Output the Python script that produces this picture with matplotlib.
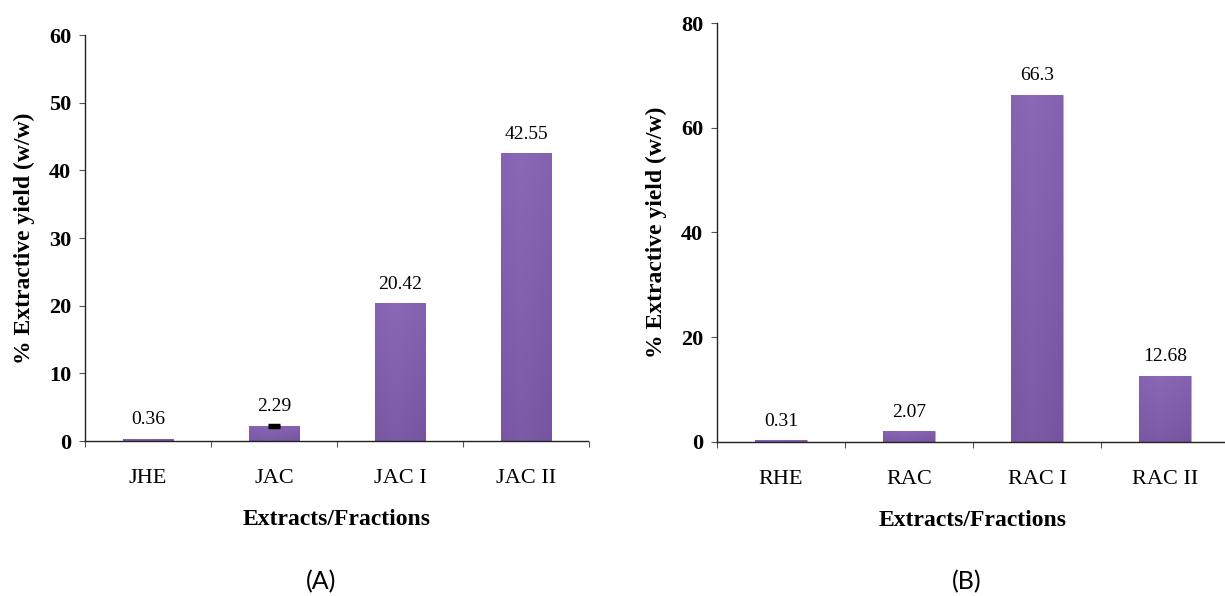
import numpy as np
import matplotlib
matplotlib.use('Agg')
import matplotlib.pyplot as plt
from matplotlib.colors import LinearSegmentedColormap

plt.rcParams['font.family'] = ['Liberation Serif', 'DejaVu Serif']

# panel A
cats_a = ['JHE', 'JAC', 'JAC I', 'JAC II']
vals_a = [0.36, 2.29, 20.42, 42.55]
labels_a = ['0.36', '2.29', '20.42', '42.55']
err_idx_a = 1        # only JAC shows an error cap
err_a = 0.15

# panel B
cats_b = ['RHE', 'RAC', 'RAC I', 'RAC II']
vals_b = [0.31, 2.07, 66.3, 12.68]
labels_b = ['0.31', '2.07', '66.3', '12.68']

purple = LinearSegmentedColormap.from_list('p', ['#684890', '#7b59a5', '#8a68b6'])


def shaded_bars(ax, vals, width=0.4):
    bars = ax.bar(range(len(vals)), vals, width=width, color='#7b59a5',
                  edgecolor='#b8a8cc', linewidth=0.8, linestyle=(0, (1.5, 1)), zorder=2)
    # fake the bevelled look with a gradient clipped to each bar
    ny, nx = 60, 40
    yy = np.linspace(0, 1, ny)[:, None]
    xx = np.linspace(0, 1, nx)[None, :]
    grad = 0.35 + 0.45 * yy + 0.2 * (1 - np.abs(xx - 0.4) * 1.6)
    grad = np.clip(grad, 0, 1)
    for b in bars:
        x0, w, h = b.get_x(), b.get_width(), b.get_height()
        im = ax.imshow(grad, cmap=purple, extent=[x0, x0 + w, 0, h], origin='lower',
                       aspect='auto', zorder=2.5, vmin=0, vmax=1)
        im.set_clip_path(b)
    return bars


def style_axes(ax, cats, ymax, ystep):
    ax.set_xlim(-0.5, len(cats) - 0.5)
    ax.set_ylim(0, ymax)
    ax.set_yticks(np.arange(0, ymax + 1, ystep))
    ax.set_xticks(range(len(cats)))
    ax.set_xticklabels(cats, fontsize=16)
    ax.set_xticks(np.arange(-0.5, len(cats), 1.0), minor=True)
    ax.tick_params(axis='x', which='major', length=0, pad=20)
    ax.tick_params(axis='x', which='minor', length=4, width=0.8, color='#555555', direction='out')
    ax.tick_params(axis='y', length=4, width=0.8, color='#555555', labelsize=16, pad=6)
    for t in ax.get_yticklabels():
        t.set_fontweight('bold')
    for s in ['top', 'right']:
        ax.spines[s].set_visible(False)
    for s in ['left', 'bottom']:
        ax.spines[s].set_linestyle((0, (2, 1)))
        ax.spines[s].set_color('#222222')
        ax.spines[s].set_linewidth(1.0)
    ax.set_xlabel('Extracts/Fractions', fontsize=17, fontweight='bold', labelpad=15)
    ax.set_ylabel('% Extractive yield (w/w)', fontsize=17, fontweight='bold', labelpad=10)


fig = plt.figure(figsize=(12.25, 5.96), dpi=100)

axA = fig.add_axes([0.0694, 0.260, 0.4114, 0.681])
barsA = shaded_bars(axA, vals_a)
axA.errorbar([err_idx_a], [vals_a[err_idx_a]], yerr=[err_a], fmt='none', ecolor='black',
             elinewidth=1.5, capsize=4, capthick=2.5, zorder=4)
for i, (v, lab) in enumerate(zip(vals_a, labels_a)):
    axA.text(i, v + 60 * 0.025, lab, ha='center', va='bottom', fontsize=14)
style_axes(axA, cats_a, 60, 10)

axB = fig.add_axes([0.5853, 0.2584, 0.418, 0.703])
barsB = shaded_bars(axB, vals_b)
for i, (v, lab) in enumerate(zip(vals_b, labels_b)):
    axB.text(i, v + 80 * 0.025, lab, ha='center', va='bottom', fontsize=14)
style_axes(axB, cats_b, 80, 20)

fig.text(0.262, 0.0235, '(A)', fontsize=18, family=['Lato', 'DejaVu Sans'], ha='center', va='center')
fig.text(0.789, 0.0235, '(B)', fontsize=18, family=['Lato', 'DejaVu Sans'], ha='center', va='center')

fig.savefig('out.png', dpi=100)
